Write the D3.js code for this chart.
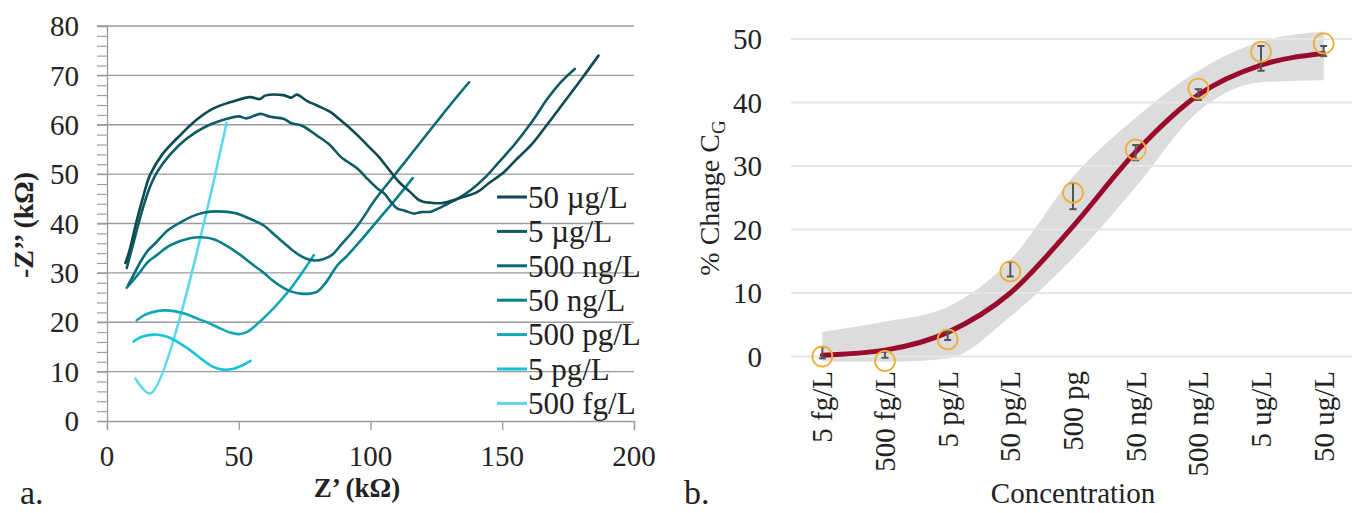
<!DOCTYPE html>
<html>
<head>
<meta charset="utf-8">
<script src="https://cdn.jsdelivr.net/npm/d3@7"></script>
<style>
  body { margin: 0; background: #fff; }
  svg text { font-family: "Liberation Serif", "DejaVu Serif", "Times New Roman", serif; }
</style>
</head>
<body>
<div id="chart"></div>
<script>
const width = 1360;
const height = 513;
const serif = "'Liberation Serif', 'DejaVu Serif', 'Times New Roman', serif";

// ---- panel a: Nyquist curves, [Z', -Z''] in kOhm ----
const seriesNames = ["50 µg/L", "5 µg/L", "500 ng/L", "50 ng/L", "500 pg/L", "5 pg/L", "500 fg/L"];
const seriesColors = ["#0b4a50", "#0d5a61", "#0a6b75", "#0a808b", "#12a6b9", "#14c3da", "#5cd8ee"];

const ug50 = [[7,32],[8.8,35],[11,40],[13.5,45],[16.3,49.8],[21,54],[27.8,57.9],[34,61],[40.4,63.3],[47,64.6],[54.3,65.6],[58,65.2],[60,65.9],[66.9,66],[70,65.5],[72,66.1],[76,64.8],[79.7,63.9],[85,62.5],[88,61.2],[92.4,59.2],[96,57.4],[100,55.2],[103,53.6],[107.6,50.5],[111,48.3],[115,46.4],[118,44.9],[120,44.4],[123,44.2],[126.5,44.1],[130,44.5],[133,45],[140.6,46.4],[145,48.2],[150.6,50.4],[155,52.8],[160.8,55.8],[167,60],[173.5,64.6],[180,69.2],[186.5,74]];
const ug5 = [[7.5,31],[10,36],[13,42],[16,47],[19,50.4],[24,54],[30.3,57.2],[37,59.5],[45.5,61.2],[50,61.7],[53,61.3],[58.2,62.2],[62,61.6],[67,61.2],[70,60.3],[74,59.8],[79.7,57.8],[84.6,55.9],[88.5,53.6],[91,52.6],[94.9,51.2],[98,49.5],[102.6,47.1],[105,46.2],[107.7,44.4],[110.2,43],[113,42.6],[116.5,42],[119,42.3],[122.9,42.4],[126,43.1],[129.3,44],[133,45],[138.1,46.8],[144,49.6],[148.5,52.3],[154.5,55.9],[161,60.4],[167.2,65.3],[172,68.5],[177.5,71.3]];
const ng500 = [[8,27.5],[10,29.5],[13,32.5],[15.5,34.5],[18.9,36.3],[23,38.6],[29.1,40.6],[34,41.8],[39.3,42.4],[44,42.4],[49.4,42],[54,41],[59.5,39.6],[64,37.5],[69.7,34.9],[73,33.6],[76,32.8],[79,32.5],[82.3,32.8],[85.5,33.7],[88.7,35.6],[95,39.5],[102,45],[110,50.4],[118,55.8],[125,60.5],[131,64.5],[137.4,68.6]];
const ng50 = [[7.5,27],[10,28.5],[13,30.5],[15.5,32.2],[18.9,33.6],[24,35.6],[31.5,37],[36,37.2],[40.5,36.8],[45,35.6],[50.7,33.6],[55,31.8],[59.5,30],[63,28.4],[67.1,26.9],[70,26.2],[73.5,25.8],[77,25.8],[79.8,26.2],[83,28],[87.4,31.5],[91.2,33.5],[97,37],[103,40.8],[110,45.2],[116,49.2]];
const pg500 = [[11.3,20.4],[14,21.4],[17,22],[21.5,22.4],[26,22.2],[30.3,21.6],[34,20.8],[37.9,20],[42,19],[46.8,17.9],[50,17.6],[53,18],[55.6,19],[59,20.6],[63.2,22.8],[66.5,24.8],[69.7,26.8],[74,30],[78.5,33.6]];
const pg5 = [[10.1,16.1],[13,17],[17.6,17.5],[21,17.3],[24,16.8],[28,15.6],[32.9,13.8],[36.5,12.3],[40.5,10.9],[44,10.4],[48.1,10.6],[51,11.2],[54.5,12.2]];
const fg500 = [[10.8,8.6],[16.5,5.6],[45.4,60.4]];
const nyquist = [ug50, ug5, ng500, ng50, pg500, pg5, fg500];

const zTicksX = [0, 50, 100, 150, 200];
const zTicksY = [0, 10, 20, 30, 40, 50, 60, 70, 80];

// ---- panel b: calibration ----
const concentrations = ["5 fg/L", "500 fg/L", "5 pg/L", "50 pg/L", "500 pg", "50 ng/L", "500 ng/L", "5 ug/L", "50 ug/L"];
const pctChange = [0, -0.7, 2.7, 13.4, 25.8, 32.6, 42.2, 48.0, 49.3];
const errLow = [-0.3, -0.2, 2.6, 12.6, 23.2, 30.9, 40.4, 45.0, 47.3];
const errHigh = [1.5, 0.8, 3.9, 14.9, 27.3, 33.3, 42.1, 48.9, 48.9];
const fitCurve = [0.2, 1.0, 3.8, 10.0, 20.5, 32.2, 41.2, 45.9, 47.7];
const bandUpper = [3.9, 5.5, 7.8, 15.2, 28.3, 37.6, 45.0, 49.6, 51.2];
const bandLower = [-0.8, -0.8, -0.3, 6.3, 15.5, 26.7, 38.6, 43.2, 43.5];
const pctTicks = [0, 10, 20, 30, 40, 50];

const svg = d3.select("#chart").append("svg")
  .attr("width", width)
  .attr("height", height)
  .attr("font-family", serif);

// ================= panel a =================
const xA = d3.scaleLinear().domain([0, 200]).range([107, 634]);
const yA = d3.scaleLinear().domain([0, 80]).range([421, 26]);

const gA = svg.append("g");

// gridlines
gA.append("g")
  .selectAll("line")
  .data(zTicksY.slice(1))
  .join("line")
  .attr("x1", xA(0) - 10)
  .attr("x2", xA(200))
  .attr("y1", d => yA(d))
  .attr("y2", d => yA(d))
  .attr("stroke", "#9a9a9a")
  .attr("stroke-width", 1.3);

// y axis with minor ticks
const yAxisA = gA.append("g")
  .attr("transform", `translate(${xA(0)},0)`)
  .call(d3.axisLeft(yA).ticks(40).tickSize(10).tickFormat(""));
yAxisA.select(".domain").attr("stroke", "#9a9a9a").attr("stroke-width", 1.3);
yAxisA.selectAll(".tick line").attr("stroke", "#9a9a9a").attr("stroke-width", 1.1);

// x axis
const xAxisA = gA.append("g")
  .attr("transform", `translate(0,${yA(0)})`)
  .call(d3.axisBottom(xA).tickValues(zTicksX).tickSize(9).tickFormat(""));
xAxisA.select(".domain").attr("stroke", "#9a9a9a").attr("stroke-width", 1.3);
xAxisA.selectAll(".tick line").attr("stroke", "#9a9a9a").attr("stroke-width", 1.3);

// tick labels
gA.append("g")
  .selectAll("text")
  .data(zTicksY)
  .join("text")
  .attr("x", 79)
  .attr("y", d => yA(d))
  .attr("dy", "0.35em")
  .attr("text-anchor", "end")
  .attr("font-size", 29)
  .attr("fill", "#222")
  .text(d => d);

gA.append("g")
  .selectAll("text")
  .data(zTicksX)
  .join("text")
  .attr("x", d => xA(d))
  .attr("y", 466)
  .attr("text-anchor", "middle")
  .attr("font-size", 29)
  .attr("fill", "#222")
  .text(d => d);

// curves
const lineA = d3.line()
  .x(d => xA(d[0]))
  .y(d => yA(d[1]))
  .curve(d3.curveCatmullRom);

gA.append("g")
  .selectAll("path")
  .data(nyquist.map((pts, i) => ({ pts, i })).reverse())
  .join("path")
  .attr("d", d => lineA(d.pts))
  .attr("fill", "none")
  .attr("stroke", d => seriesColors[d.i])
  .attr("stroke-width", 2.6)
  .attr("stroke-linejoin", "round")
  .attr("stroke-linecap", "round");

// legend
const legend = gA.append("g")
  .selectAll("g")
  .data(seriesNames)
  .join("g")
  .attr("transform", (d, i) => `translate(497,${197 + i * 34.4})`);

legend.append("line")
  .attr("x1", 0)
  .attr("x2", 30)
  .attr("stroke", (d, i) => seriesColors[i])
  .attr("stroke-width", 3);

legend.append("text")
  .attr("x", 31)
  .attr("dy", "0.35em")
  .attr("font-size", 31)
  .attr("fill", "#222")
  .text(d => d);

// axis titles
gA.append("text")
  .attr("transform", `translate(33,225) rotate(-90)`)
  .attr("text-anchor", "middle")
  .attr("font-size", 28)
  .attr("font-weight", "bold")
  .attr("fill", "#222")
  .text("-Z’’ (kΩ)");

gA.append("text")
  .attr("x", 357)
  .attr("y", 497)
  .attr("text-anchor", "middle")
  .attr("font-size", 27)
  .attr("font-weight", "bold")
  .attr("fill", "#222")
  .text("Z’ (kΩ)");

gA.append("text")
  .attr("x", 20)
  .attr("y", 504)
  .attr("font-size", 34)
  .attr("fill", "#222")
  .text("a.");

// ================= panel b =================
const xB = d3.scaleBand().domain(concentrations).range([791, 1355]);
const yB = d3.scaleLinear().domain([0, 50]).range([356.5, 39]);
const cx = d => xB(d) + xB.bandwidth() / 2;

const gB = svg.append("g");

// confidence band
const band = d3.area()
  .x((d, i) => cx(concentrations[i]))
  .y0((d, i) => yB(bandLower[i]))
  .y1((d, i) => yB(bandUpper[i]))
  .curve(d3.curveMonotoneX);

gB.append("path")
  .datum(concentrations)
  .attr("d", band)
  .attr("fill", "#dcdcdc");

// gridlines over band
gB.append("g")
  .selectAll("line")
  .data(pctTicks)
  .join("line")
  .attr("x1", 791)
  .attr("x2", 1352)
  .attr("y1", d => yB(d))
  .attr("y2", d => yB(d))
  .attr("stroke", "#e6e6e6")
  .attr("stroke-width", 2);

gB.append("g")
  .selectAll("text")
  .data(pctTicks)
  .join("text")
  .attr("x", 762)
  .attr("y", d => yB(d))
  .attr("dy", "0.35em")
  .attr("text-anchor", "end")
  .attr("font-size", 29)
  .attr("fill", "#222")
  .text(d => d);

// fitted curve
const fitLine = d3.line()
  .x((d, i) => cx(concentrations[i]))
  .y(d => yB(d))
  .curve(d3.curveMonotoneX);

gB.append("path")
  .datum(fitCurve)
  .attr("d", fitLine)
  .attr("fill", "none")
  .attr("stroke", "#990b2c")
  .attr("stroke-width", 5)
  .attr("stroke-linecap", "round");

// error bars
const err = gB.append("g")
  .selectAll("g")
  .data(concentrations)
  .join("g")
  .attr("stroke", "#555")
  .attr("stroke-width", 2);

err.append("line")
  .attr("x1", d => cx(d))
  .attr("x2", d => cx(d))
  .attr("y1", (d, i) => yB(errLow[i]))
  .attr("y2", (d, i) => yB(errHigh[i]));
err.append("line")
  .attr("x1", d => cx(d) - 3.5)
  .attr("x2", d => cx(d) + 3.5)
  .attr("y1", (d, i) => yB(errLow[i]))
  .attr("y2", (d, i) => yB(errLow[i]));
err.append("line")
  .attr("x1", d => cx(d) - 3.5)
  .attr("x2", d => cx(d) + 3.5)
  .attr("y1", (d, i) => yB(errHigh[i]))
  .attr("y2", (d, i) => yB(errHigh[i]));

// data points
gB.append("g")
  .selectAll("circle")
  .data(concentrations)
  .join("circle")
  .attr("cx", d => cx(d))
  .attr("cy", (d, i) => yB(pctChange[i]))
  .attr("r", 10)
  .attr("fill", "none")
  .attr("stroke", "#eeb03c")
  .attr("stroke-width", 1.8);

// category labels
gB.append("g")
  .selectAll("text")
  .data(concentrations)
  .join("text")
  .attr("transform", d => `translate(${cx(d)},371) rotate(-90)`)
  .attr("dy", "0.35em")
  .attr("text-anchor", "end")
  .attr("font-size", 29)
  .attr("fill", "#222")
  .text(d => d);

// axis titles
const yTitle = gB.append("text")
  .attr("transform", `translate(719,198) rotate(-90)`)
  .attr("text-anchor", "middle")
  .attr("font-size", 28)
  .attr("fill", "#222");
yTitle.append("tspan").text("% Change C");
yTitle.append("tspan").attr("font-size", 19).attr("dy", 6).text("G");

gB.append("text")
  .attr("x", 1073)
  .attr("y", 503)
  .attr("text-anchor", "middle")
  .attr("font-size", 29)
  .attr("fill", "#222")
  .text("Concentration");

gB.append("text")
  .attr("x", 684)
  .attr("y", 504)
  .attr("font-size", 34)
  .attr("fill", "#222")
  .text("b.");
</script>
</body>
</html>
